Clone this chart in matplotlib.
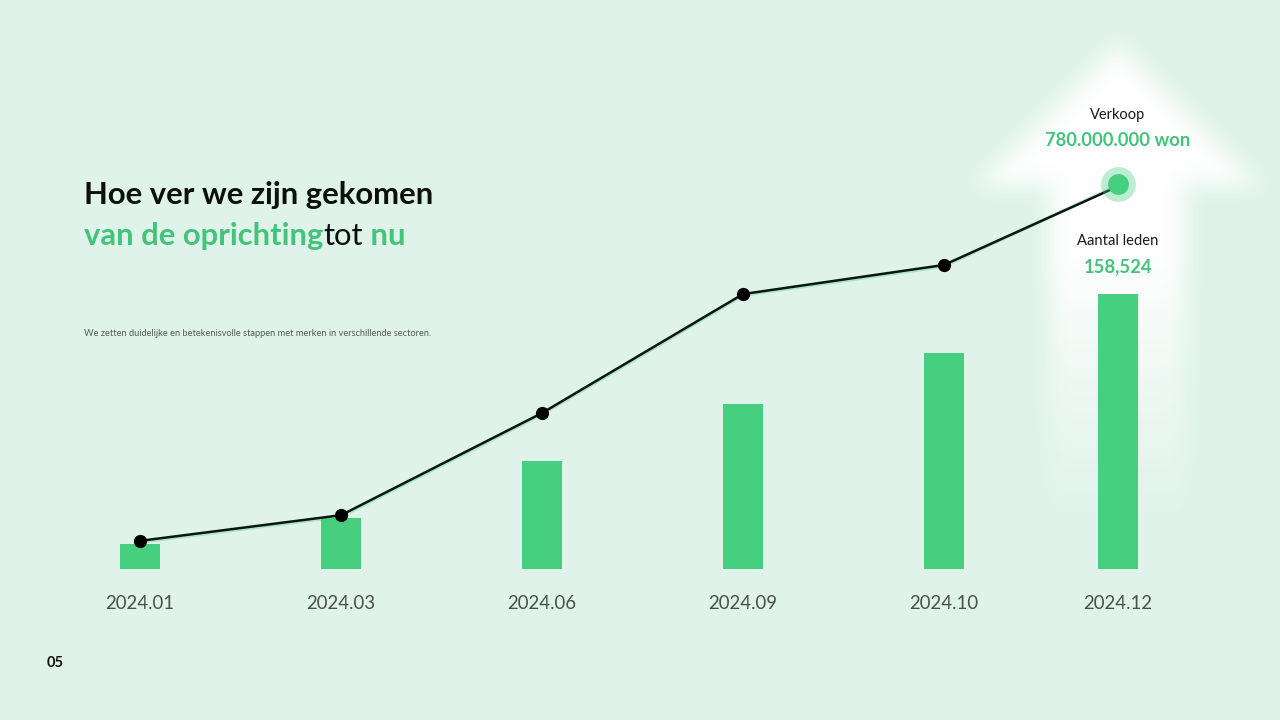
import numpy as np
import matplotlib
matplotlib.use("Agg")
import matplotlib.pyplot as plt
from matplotlib.path import Path

# ---------------- data ----------------
periods = ["2024.01", "2024.03", "2024.06", "2024.09", "2024.10", "2024.12"]
members = [14400, 29400, 62250, 95100, 124500, 158524]
sales_won = [57e6, 109e6, 316e6, 557e6, 616e6, 780e6]

title_line1 = "Hoe ver we zijn gekomen"
title_green1 = "van de oprichting"
title_black = "tot"
title_green2 = " nu"
subtitle = "We zetten duidelijke en betekenisvolle stappen met merken in verschillende sectoren."
page_no = "05"

# ---------------- style ----------------
BG = "#e0f3ea"
GREEN = "#46cf7f"
GREEN_TXT = "#42c47b"
W, H = 1280, 720
DPI = 100
x_pos = [0, 1, 2, 3, 4, 4.866]  # layout positions (last bar sits closer)

plt.rcParams['font.family'] = ['Lato', 'DejaVu Sans']

fig = plt.figure(figsize=(W / DPI, H / DPI), dpi=DPI)
fig.patch.set_facecolor(BG)

# ---------- background glow arrow ----------
bg = fig.add_axes([0, 0, 1, 1])
bg.set_xlim(0, W)
bg.set_ylim(H, 0)
bg.axis("off")
yy, xx = np.mgrid[0:H, 0:W]
arrow = Path([(1118, 45), (1258, 185), (1185, 185), (1185, 640), (1050, 640),
              (1050, 185), (978, 185), (1118, 45)])
mask = arrow.contains_points(np.c_[xx.ravel() + 0.5, yy.ravel() + 0.5]).reshape(H, W).astype(float)


def box_blur(a, r, axis):
    c = np.cumsum(np.pad(a, [(r + 1, r) if i == axis else (0, 0) for i in range(2)], mode="edge"), axis=axis)
    if axis == 0:
        return (c[2 * r + 1:, :] - c[:-2 * r - 1, :]) / (2 * r + 1)
    return (c[:, 2 * r + 1:] - c[:, :-2 * r - 1]) / (2 * r + 1)


for _ in range(3):
    mask = box_blur(mask, 9, 0)
    mask = box_blur(mask, 9, 1)
fade = np.clip((530 - yy) / (530 - 260), 0, 1) ** 1.2
alpha = mask * fade * 0.95
img = np.ones((H, W, 4))
img[..., 3] = alpha
bg.imshow(img, extent=(0, W, H, 0), interpolation="bilinear", zorder=0)

# ---------- chart axes ----------
base_px = 569
ax = fig.add_axes([0, (H - base_px) / H, 1, base_px / H])
ax.set_facecolor("none")
ax.set_xlim(-140 / 201, (W - 140) / 201)
ax.set_ylim(0, base_px * 576.4)
ax.bar(x_pos, members, width=0.199, color=GREEN, zorder=2)
ax.set_xticks(x_pos, periods)
ax.tick_params(axis="x", length=0, pad=18.5, labelsize=13.4, labelcolor="#4a4f4d")
ax.set_yticks([])
for s in ax.spines.values():
    s.set_visible(False)

ax2 = ax.twinx()
ax2.set_ylim(0, base_px * 2.026e6)
ax2.set_yticks([])
for s in ax2.spines.values():
    s.set_visible(False)
# soft green shadow under the line
ax2.plot(x_pos, np.array(sales_won) - 2.5e6, color=GREEN, lw=2.5, alpha=0.35, zorder=2)
ax2.plot(x_pos[:-1] + [x_pos[-1] - 0.04], sales_won[:-1] + [sales_won[-1] - 1.2e7],
         color="#0d1510", lw=1.8, zorder=3, solid_capstyle="round")
ax2.plot(x_pos[:-1], sales_won[:-1], "o", color="black", ms=8.5, zorder=4)
ax2.plot(x_pos[-1], sales_won[-1], "o", color=GREEN, alpha=0.35, ms=25, mew=0, zorder=4)
ax2.plot(x_pos[-1], sales_won[-1], "o", color=GREEN, ms=15, mew=0, zorder=5)

# last point annotations
sales_txt = f"{int(sales_won[-1]):,}".replace(",", ".") + " won"
ax2.annotate("Verkoop", (x_pos[-1], sales_won[-1]), xytext=(0, 50), textcoords="offset points",
             ha="center", va="center", fontsize=10.5, color="#1a1a1a")
ax2.annotate(sales_txt, (x_pos[-1], sales_won[-1]), xytext=(0, 31.5), textcoords="offset points",
             ha="center", va="center", fontsize=13.2, fontweight="bold", color=GREEN_TXT)
ax.annotate("Aantal leden", (x_pos[-1], members[-1]), xytext=(0, 38.5), textcoords="offset points",
            ha="center", va="center", fontsize=10.6, color="#1a1a1a")
ax.annotate(f"{members[-1]:,}", (x_pos[-1], members[-1]), xytext=(0, 19.5), textcoords="offset points",
            ha="center", va="center", fontsize=13.3, fontweight="bold", color=GREEN_TXT)

# ---------- titles ----------
TS = 22.3
fig.text(84 / W, 1 - 204 / H, title_line1, fontsize=TS, fontweight="bold", color="#0b0f0d",
         ha="left", va="baseline")
t1 = fig.text(84 / W, 1 - 245 / H, title_green1, fontsize=TS, fontweight="bold", color=GREEN_TXT,
              ha="left", va="baseline")
t2 = fig.text(0, 0, title_black, fontsize=TS, color="#0b0f0d", ha="left", va="baseline")
t3 = fig.text(0, 0, title_green2, fontsize=TS, fontweight="bold", color=GREEN_TXT, ha="left", va="baseline")
fig.canvas.draw()
r = fig.canvas.get_renderer()
bb = t1.get_window_extent(r)
t2.set_position((bb.x1 / W, 1 - 245 / H))
fig.canvas.draw()
bb2 = t2.get_window_extent(r)
t3.set_position((bb2.x1 / W, 1 - 245 / H))

fig.text(84 / W, 1 - 334 / H, subtitle, fontsize=6.65, color="#555a58", ha="left", va="center")
fig.text(47 / W, 1 - 663 / H, page_no, fontsize=10.5, fontweight="bold", color="#111111",
         ha="left", va="center")

fig.savefig("out.png", dpi=DPI, facecolor=BG)
